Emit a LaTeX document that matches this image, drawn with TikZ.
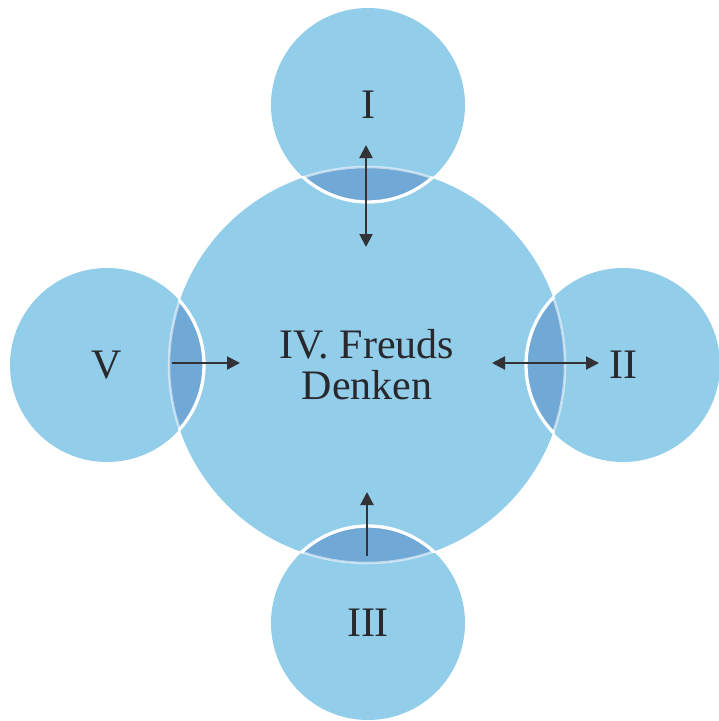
\documentclass[tikz,border=0pt]{standalone}
\usepackage{fontspec}
\setmainfont{Liberation Serif}
\usetikzlibrary{arrows.meta}
\definecolor{lblue}{RGB}{146,205,234}
\definecolor{dblue}{RGB}{112,168,214}
\definecolor{arrowc}{RGB}{50,50,55}
\definecolor{textc}{RGB}{40,40,45}
\begin{document}
\begin{tikzpicture}[x=1pt,y=-1pt,
  bigc/.style={circle, fill=lblue, minimum size=396pt, inner sep=0pt, align=center,
    font=\fontsize{42}{42}\selectfont, text=textc},
  smallc/.style={circle, fill=lblue, minimum size=194pt, inner sep=0pt,
    font=\fontsize{42}{42}\selectfont, text=textc},
  conn/.style={draw=arrowc, line width=2pt, -{Triangle[length=13pt,width=13pt]}},
  dconn/.style={draw=arrowc, line width=2pt, {Triangle[length=13pt,width=13pt]}-{Triangle[length=13pt,width=13pt]}}]
\useasboundingbox (0,0) rectangle (719,721);
% central circle
\node[bigc] (C) at (367,365) {IV. Freuds\\[-1pt]Denken};
% small circles
\node[smallc] (I) at (368,105) {I};
\node[smallc] (II) at (623,365) {II};
\node[smallc] (III) at (368,623) {III};
\node[smallc] (V) at (107,365) {V};
% lenses
\foreach \n in {I,II,III,V}{
  \begin{scope}
    \clip (C.center) circle (198pt);
    \fill[dblue] (\n.center) circle (97pt);
  \end{scope}
}
% outlines
\begin{scope}
  \clip (C.center) circle (199.5pt);
  \foreach \n in {I,II,III,V}{
    \draw[white, line width=3.3pt] (\n.center) circle (97pt);
  }
\end{scope}
\begin{scope}
  \clip (I.center) circle (97pt) (II.center) circle (97pt) (III.center) circle (97pt) (V.center) circle (97pt);
  \draw[white, opacity=0.55, line width=2.5pt] (C.center) circle (198pt);
\end{scope}
% arrow end points
\coordinate (aIa) at (366,145);
\coordinate (aIb) at (366,247);
\coordinate (aIIa) at (492,363);
\coordinate (aIIb) at (599,363);
\coordinate (aIIIa) at (367,556);
\coordinate (aIIIb) at (367,492);
\coordinate (aVa) at (172,363);
\coordinate (aVb) at (240,363);
\draw[dconn] (aIa) -- (aIb);
\draw[dconn] (aIIa) -- (aIIb);
\draw[conn] (aIIIa) -- (aIIIb);
\draw[conn] (aVa) -- (aVb);
\end{tikzpicture}
\end{document}
